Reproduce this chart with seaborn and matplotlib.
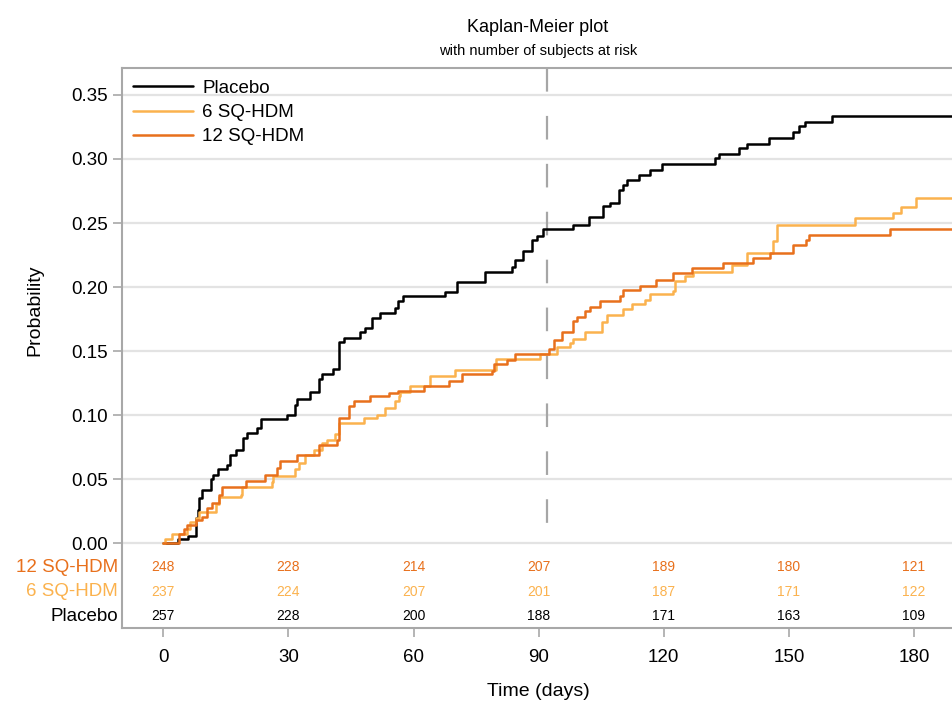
import numpy as np
import pandas as pd
import matplotlib
matplotlib.use("Agg")
import matplotlib.pyplot as plt
import matplotlib.transforms as mtransforms
import seaborn as sns

# ---------------- data ----------------
groups = ["Placebo", "6 SQ-HDM", "12 SQ-HDM"]
group_colors = ["#000000", "#FBB24E", "#E8701C"]

placebo_days = [0, 3.6, 6.0, 7.8, 8.3, 8.5, 9.3, 11.3, 12.0, 13.2,
                15.3, 16.0, 17.3, 19.2, 20.0, 22.5, 23.3, 29.7, 31.6, 32.1,
                35.2, 37.2, 38.0, 40.6, 42.2, 43.2, 47.2, 48.4, 50.1, 52.0,
                55.6, 56.3, 57.5, 67.6, 70.5, 77.2, 83.7, 84.4, 86.3, 88.4,
                89.6, 91.1, 98.3, 102.1, 105.5, 107.1, 109.3, 110.3, 111.2, 114.1,
                116.7, 119.6, 132.3, 133.3, 138.1, 140.0, 145.3, 151.0, 152.4, 153.9,
                160.4]
placebo_prob = [0, 0.003, 0.006, 0.020, 0.026, 0.035, 0.042, 0.050, 0.053, 0.058,
                0.061, 0.069, 0.073, 0.082, 0.086, 0.090, 0.097, 0.100, 0.108, 0.113,
                0.118, 0.128, 0.132, 0.136, 0.157, 0.160, 0.165, 0.168, 0.176, 0.180,
                0.184, 0.189, 0.193, 0.196, 0.204, 0.212, 0.216, 0.221, 0.228, 0.237,
                0.240, 0.2457, 0.2485, 0.255, 0.263, 0.266, 0.2755, 0.2794, 0.2834, 0.2873,
                0.2912, 0.2959, 0.3006, 0.3038, 0.3085, 0.3116, 0.3163, 0.321, 0.3257, 0.3289,
                0.3336]

sq6_days = [0, 0.5, 2.1, 5.7, 6.3, 7.7, 8.5, 12.5, 13.3, 18.5,
            18.9, 26.0, 26.4, 31.6, 32.4, 34.0, 36.0, 38.0, 39.2, 41.2,
            42.0, 48.0, 51.2, 53.2, 55.6, 56.4, 56.8, 59.2, 64.0, 70.0,
            79.8, 90.4, 94.4, 97.4, 98.3, 101.1, 105.1, 106.3, 110.3, 112.3,
            115.5, 116.7, 122.3, 122.6, 125.1, 127.1, 136.3, 140.0, 146.3, 147.1,
            165.9, 175.0, 176.8, 180.5]
sq6_prob = [0, 0.003, 0.0076, 0.0115, 0.0167, 0.020, 0.0246, 0.031, 0.036, 0.0377,
            0.044, 0.048, 0.0528, 0.0578, 0.063, 0.069, 0.073, 0.078, 0.081, 0.085,
            0.094, 0.098, 0.1005, 0.1057, 0.111, 0.1148, 0.118, 0.1227, 0.1305, 0.1352,
            0.1435, 0.1476, 0.1536, 0.1567, 0.1593, 0.165, 0.1724, 0.1782, 0.1829, 0.1868,
            0.1902, 0.1947, 0.1973, 0.205, 0.209, 0.2117, 0.2169, 0.2268, 0.2357, 0.2488,
            0.2541, 0.2582, 0.2627, 0.2692]

sq12_days = [0, 3.7, 4.9, 5.7, 7.7, 9.3, 10.5, 11.7, 13.3, 14.1,
             19.7, 24.4, 27.2, 28.0, 32.0, 37.4, 41.6, 42.2, 44.4, 45.6,
             49.5, 54.0, 56.2, 62.4, 68.4, 71.6, 78.7, 79.2, 82.3, 84.3,
             92.4, 93.6, 95.6, 98.2, 99.3, 101.2, 102.2, 104.6, 109.4, 110.2,
             114.2, 118.2, 122.3, 126.7, 134.3, 141.5, 145.5, 151.1, 154.1, 154.9,
             174.3]
sq12_prob = [0, 0.0076, 0.0115, 0.014, 0.018, 0.0207, 0.0277, 0.0316, 0.0377, 0.0442,
             0.0489, 0.0534, 0.0586, 0.0644, 0.069, 0.077, 0.081, 0.098, 0.107, 0.111,
             0.115, 0.1175, 0.119, 0.1227, 0.1266, 0.1319, 0.1345, 0.1397, 0.1429, 0.148,
             0.1515, 0.159, 0.1646, 0.1737, 0.1764, 0.1816, 0.1842, 0.1894, 0.1933, 0.198,
             0.2012, 0.2059, 0.2109, 0.2152, 0.2187, 0.2227, 0.2268, 0.2331, 0.2365, 0.241,
             0.2457]

risk_times = [0, 30, 60, 90, 120, 150, 180]
risk_labels = ["12 SQ-HDM", "6 SQ-HDM", "Placebo"]
risk_12 = [248, 228, 214, 207, 189, 180, 121]
risk_6 = [237, 224, 207, 201, 187, 171, 122]
risk_placebo = [257, 228, 200, 188, 171, 163, 109]

ref_day = 92
end_day = 190

# ---------------- style ----------------
sns.set_theme(style="white")
plt.rcParams["font.family"] = ["Liberation Sans", "DejaVu Sans"]
plt.rcParams["lines.scale_dashes"] = False
plt.rcParams["text.color"] = "black"

W, H = 953, 705
fig = plt.figure(figsize=(W / 100, H / 100), dpi=100)
ax_left, ax_right, ax_top, ax_bottom = 121.7, 955.7, 68, 628
ax = fig.add_axes([ax_left / W, 1 - ax_bottom / H,
                   (ax_right - ax_left) / W, (ax_bottom - ax_top) / H])

frames = []
for name, d, p in [("Placebo", placebo_days, placebo_prob),
                   ("6 SQ-HDM", sq6_days, sq6_prob),
                   ("12 SQ-HDM", sq12_days, sq12_prob)]:
    frames.append(pd.DataFrame({"day": list(d) + [end_day],
                                "prob": list(p) + [p[-1]],
                                "group": name}))
df = pd.concat(frames, ignore_index=True)

sns.lineplot(data=df, x="day", y="prob", hue="group", hue_order=groups,
             palette=group_colors, drawstyle="steps-post", estimator=None,
             sort=False, lw=1.8, ax=ax, zorder=3)

ymin, ymax = -0.0661, 0.371
ax.set_xlim(-10, 190)
ax.set_ylim(ymin, ymax)

# reference line
ax.plot([ref_day, ref_day], [ymax, 0.003], color="#A6A6A6", lw=1.6,
        dashes=(17, 17.5), zorder=2)

ax.set_xticks(risk_times)
ax.set_xticklabels([str(t) for t in risk_times])
yt = np.arange(0, 0.351, 0.05)
ax.set_yticks(yt)
ax.set_yticklabels([f"{v:.2f}" for v in yt])
ax.yaxis.grid(True, color="#E3E3E3", lw=1.6)
ax.xaxis.grid(False)
ax.set_axisbelow(True)

for s in ["left", "bottom", "top"]:
    ax.spines[s].set_color("#A8A8A8")
    ax.spines[s].set_linewidth(1.5)
ax.spines["right"].set_visible(False)

ax.tick_params(axis="both", direction="out", length=6.5, width=1.2,
               color="#A8A8A8", labelsize=13.5, labelcolor="black")
ax.tick_params(axis="x", pad=8.5)
ax.tick_params(axis="y", pad=3.5)
ax.tick_params(left=True, bottom=True)
ax.set_xlabel("")
ax.set_ylabel("")

# legend
handles, labels = ax.get_legend_handles_labels()
leg = ax.legend(handles, labels, loc="upper left", bbox_to_anchor=(0.0135, 0.979),
                frameon=False, borderaxespad=0, borderpad=0, fontsize=13.5,
                handlelength=3.2, handletextpad=0.5, labelspacing=0.38)
for t in leg.get_texts():
    t.set_color("black")

# number at risk
def py(pix):
    return -(pix - 543.3) / 1281.0

row_y = [py(567.3), py(591.7), py(616)]
row_colors = [group_colors[2], group_colors[1], group_colors[0]]
row_vals = [risk_12, risk_6, risk_placebo]
blend = mtransforms.blended_transform_factory(ax.transAxes, ax.transData)
for lab, yv, col, vals in zip(risk_labels, row_y, row_colors, row_vals):
    ax.text(-0.0045, yv, lab, transform=blend, ha="right", va="center",
            fontsize=13.5, color=col)
    for t, n in zip(risk_times, vals):
        ax.text(t, yv, str(n), ha="center", va="center", fontsize=10, color=col)

# titles and labels
fig.text(538 / W, 1 - 28 / H, "Kaplan-Meier plot", ha="center", va="center",
         fontsize=13, color="black")
fig.text(538 / W, 1 - 51 / H, "with number of subjects at risk", ha="center",
         va="center", fontsize=10.5, color="black")
fig.text(538 / W, 1 - 692 / H, "Time (days)", ha="center", va="center",
         fontsize=14, color="black")
fig.text(35 / W, 1 - 310 / H, "Probability", ha="center", va="center",
         rotation=90, fontsize=14, color="black")

fig.savefig("out.png", dpi=100)
